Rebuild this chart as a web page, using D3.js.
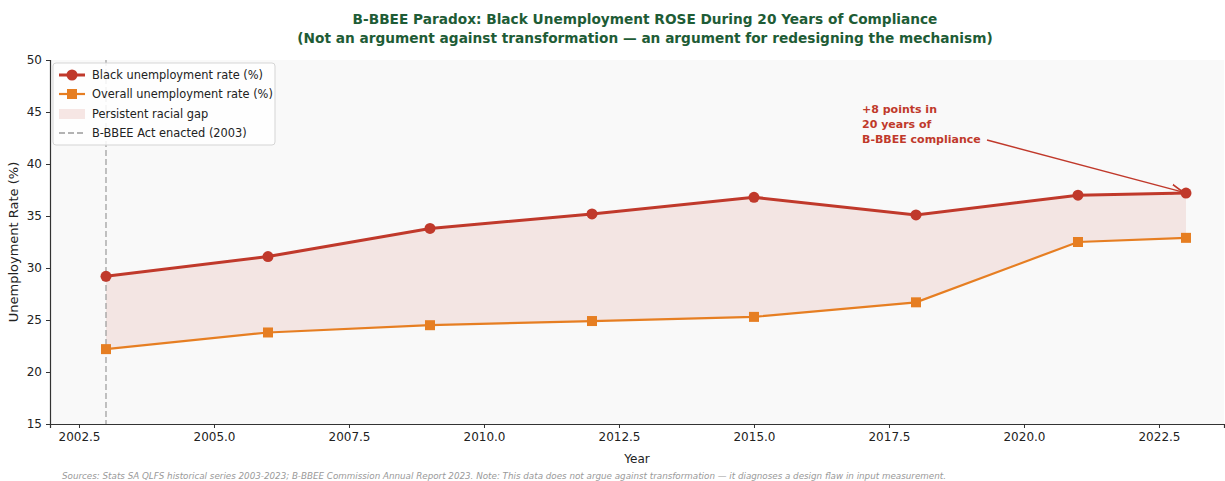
<!DOCTYPE html>
<html>
<head>
<meta charset="utf-8">
<script src="https://cdn.jsdelivr.net/npm/d3@7"></script>
<style>
  html, body { margin: 0; padding: 0; background: #ffffff; overflow: hidden; }
  svg { display: block; font-family: "DejaVu Sans", sans-serif; }
</style>
</head>
<body>
<svg id="chart" width="1225" height="481"></svg>
<script>
// Survey years and unemployment rates (%)
const years = [2003, 2006, 2009, 2012, 2015, 2018, 2021, 2023];
const blackRate = [29.2, 31.1, 33.8, 35.2, 36.8, 35.1, 37.0, 37.2];
const overallRate = [22.2, 23.8, 24.5, 24.9, 25.3, 26.7, 32.5, 32.9];
const xTicks = [2002.5, 2005.0, 2007.5, 2010.0, 2012.5, 2015.0, 2017.5, 2020.0, 2022.5];
const yTicks = [15, 20, 25, 30, 35, 40, 45, 50];
const actYear = 2003;

const titleLines = [
  "B-BBEE Paradox: Black Unemployment ROSE During 20 Years of Compliance",
  "(Not an argument against transformation \u2014 an argument for redesigning the mechanism)"
];
const legendLabels = [
  "Black unemployment rate (%)",
  "Overall unemployment rate (%)",
  "Persistent racial gap",
  "B-BBEE Act enacted (2003)"
];
const noteLines = ["+8 points in", "20 years of", "B-BBEE compliance"];
const sourceText = "Sources: Stats SA QLFS historical series 2003-2023; B-BBEE Commission Annual Report 2023. Note: This data does not argue against transformation \u2014 it diagnoses a design flaw in input measurement.";

const RED = "#c0392b", ORANGE = "#e67e22", GREEN = "#1e5c36";

const svg = d3.select("#chart");
const plot = { left: 50, right: 1224, top: 60, bottom: 424 };

const x = d3.scaleLinear().domain([2001.963, 2023.704]).range([plot.left, plot.right]);
const y = d3.scaleLinear().domain([15, 50]).range([plot.bottom, plot.top]);

// plot background
svg.append("rect")
  .attr("x", plot.left).attr("y", plot.top)
  .attr("width", plot.right - plot.left).attr("height", plot.bottom - plot.top)
  .attr("fill", "#f9f9f9");

const rows = years.map((yr, i) => ({ yr, b: blackRate[i], o: overallRate[i] }));

// gap band between the two series
svg.append("path")
  .datum(rows)
  .attr("fill", RED).attr("fill-opacity", 0.1)
  .attr("d", d3.area().x(d => x(d.yr)).y0(d => y(d.o)).y1(d => y(d.b)));

// Act line
svg.append("line")
  .attr("x1", x(actYear)).attr("x2", x(actYear))
  .attr("y1", plot.top).attr("y2", plot.bottom)
  .attr("stroke", "#9a9a9a").attr("stroke-width", 1.6)
  .attr("stroke-dasharray", "6,3").attr("opacity", 0.75);

// overall series
svg.append("path")
  .datum(rows)
  .attr("fill", "none").attr("stroke", ORANGE).attr("stroke-width", 2.2)
  .attr("d", d3.line().x(d => x(d.yr)).y(d => y(d.o)));
svg.selectAll(".sq").data(rows).enter().append("rect")
  .attr("x", d => x(d.yr) - 5).attr("y", d => y(d.o) - 5)
  .attr("width", 10).attr("height", 10).attr("fill", ORANGE);

// black series
svg.append("path")
  .datum(rows)
  .attr("fill", "none").attr("stroke", RED).attr("stroke-width", 3)
  .attr("d", d3.line().x(d => x(d.yr)).y(d => y(d.b)));
svg.selectAll(".dot").data(rows).enter().append("circle")
  .attr("cx", d => x(d.yr)).attr("cy", d => y(d.b)).attr("r", 5.5).attr("fill", RED);

// axes
const xAxis = svg.append("g")
  .attr("transform", `translate(0,${plot.bottom})`)
  .call(d3.axisBottom(x).tickValues(xTicks).tickFormat(d3.format(".1f")).tickSizeOuter(0).tickSize(4).tickPadding(4));
const yAxis = svg.append("g")
  .attr("transform", `translate(${plot.left},0)`)
  .call(d3.axisLeft(y).tickValues(yTicks).tickFormat(d3.format("d")).tickSizeOuter(0).tickSize(4).tickPadding(4));
[xAxis, yAxis].forEach(g => {
  g.selectAll("text").attr("font-size", 12).attr("fill", "#222").attr("font-family", "DejaVu Sans, sans-serif");
  g.selectAll("line").attr("stroke", "#333");
  g.select(".domain").attr("stroke", "#333").attr("stroke-width", 1.2);
});

// axis titles
svg.append("text").attr("x", 637).attr("y", 463).attr("text-anchor", "middle")
  .attr("font-size", 12).attr("fill", "#222").text("Year");
svg.append("text").attr("transform", `translate(18,${(plot.top + plot.bottom) / 2}) rotate(-90)`)
  .attr("text-anchor", "middle").attr("font-size", 13).attr("fill", "#222").text("Unemployment Rate (%)");

// title
svg.selectAll(".title").data(titleLines).enter().append("text")
  .attr("x", 645).attr("y", (d, i) => 24 + i * 19)
  .attr("text-anchor", "middle").attr("font-size", 13.7).attr("font-weight", "bold")
  .attr("fill", GREEN).text(d => d);

// annotation with arrow
svg.append("defs").append("marker")
  .attr("id", "arrowhead").attr("viewBox", "0 0 10 10").attr("refX", 10).attr("refY", 5)
  .attr("markerWidth", 8).attr("markerHeight", 8).attr("orient", "auto")
  .append("path").attr("d", "M0,1 L10,5 L0,9").attr("fill", "none").attr("stroke", RED).attr("stroke-width", 1.5);
const last = rows[rows.length - 1];
svg.append("line")
  .attr("x1", 987).attr("y1", 140)
  .attr("x2", x(last.yr) - 3).attr("y2", y(last.b) - 1)
  .attr("stroke", RED).attr("stroke-width", 1.5).attr("marker-end", "url(#arrowhead)");
svg.selectAll(".note").data(noteLines).enter().append("text")
  .attr("x", 862).attr("y", (d, i) => 113 + i * 15)
  .attr("font-size", 11).attr("font-weight", "bold").attr("fill", RED).text(d => d);

// legend
const lg = svg.append("g").attr("transform", "translate(53,63)");
lg.append("rect").attr("width", 222).attr("height", 82).attr("rx", 3)
  .attr("fill", "#ffffff").attr("fill-opacity", 0.85).attr("stroke", "#d5d5d5");
const rowY = [12, 31, 51, 70];
// black entry
lg.append("line").attr("x1", 6).attr("x2", 32).attr("y1", rowY[0]).attr("y2", rowY[0]).attr("stroke", RED).attr("stroke-width", 3);
lg.append("circle").attr("cx", 19).attr("cy", rowY[0]).attr("r", 5.5).attr("fill", RED);
// overall entry
lg.append("line").attr("x1", 6).attr("x2", 32).attr("y1", rowY[1]).attr("y2", rowY[1]).attr("stroke", ORANGE).attr("stroke-width", 2.2);
lg.append("rect").attr("x", 14).attr("y", rowY[1] - 5).attr("width", 10).attr("height", 10).attr("fill", ORANGE);
// gap entry
lg.append("rect").attr("x", 6).attr("y", rowY[2] - 5).attr("width", 26).attr("height", 10)
  .attr("fill", RED).attr("fill-opacity", 0.12);
// act entry
lg.append("line").attr("x1", 6).attr("x2", 32).attr("y1", rowY[3]).attr("y2", rowY[3])
  .attr("stroke", "#9a9a9a").attr("stroke-width", 1.6).attr("stroke-dasharray", "6,3");
lg.selectAll(".lt").data(legendLabels).enter().append("text")
  .attr("x", 39).attr("y", (d, i) => rowY[i] + 4)
  .attr("font-size", 11.4).attr("fill", "#222").text(d => d);

// source footnote
svg.append("text").attr("x", 62).attr("y", 479)
  .attr("font-size", 8.75).attr("font-style", "italic").attr("fill", "#999").text(sourceText);
</script>
</body>
</html>
